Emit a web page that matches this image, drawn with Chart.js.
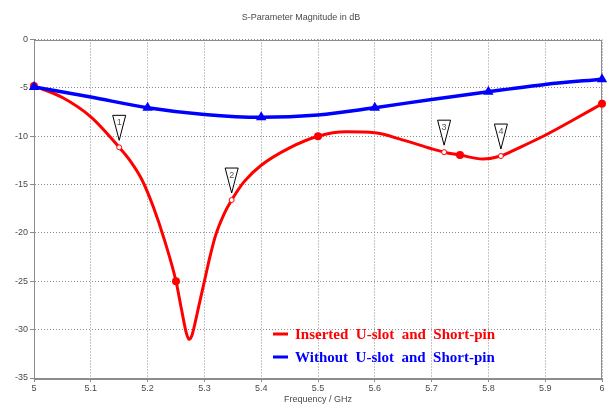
<!DOCTYPE html>
<html>
<head>
<meta charset="utf-8">
<script src="https://cdn.jsdelivr.net/npm/chart.js@4/dist/chart.umd.min.js"></script>
<style>
  html, body { margin: 0; padding: 0; background: #ffffff; }
  #wrap { width: 610px; height: 409px; }
</style>
</head>
<body>
<div id="wrap"><canvas id="chart" width="610" height="409"></canvas></div>
<script>
// Axis ticks
const freqTicks = [5.0, 5.1, 5.2, 5.3, 5.4, 5.5, 5.6, 5.7, 5.8, 5.9, 6.0];
const dbTicks = [0, -5, -10, -15, -20, -25, -30, -35];

// S11 with the U-slot and shorting pin (GHz, dB)
const insertedFreq = [5.00, 5.05, 5.10, 5.15, 5.17, 5.19, 5.21, 5.23, 5.25, 5.26, 5.268, 5.273,
                      5.278, 5.284, 5.29, 5.30, 5.31, 5.32, 5.335, 5.348, 5.37, 5.40, 5.45, 5.50,
                      5.55, 5.60, 5.65, 5.70, 5.722, 5.75, 5.79, 5.822, 5.85, 5.90, 5.95, 6.00];
const insertedDb   = [-4.8, -6.0, -8.0, -11.15, -12.6, -14.5, -17.3, -20.8, -25.0, -28.0, -30.3, -31.0,
                      -30.6, -29.2, -27.6, -25.0, -22.4, -20.2, -18.0, -16.6, -14.7, -13.0, -11.2, -10.0,
                      -9.55, -9.65, -10.4, -11.3, -11.65, -11.95, -12.35, -12.05, -11.3, -9.9, -8.3, -6.65];

// S11 of the plain patch (GHz, dB)
const withoutFreq = [5.0, 5.1, 5.2, 5.3, 5.4, 5.5, 5.6, 5.7, 5.8, 5.9, 6.0];
const withoutDb   = [-4.9, -5.95, -7.05, -7.75, -8.05, -7.8, -7.05, -6.2, -5.4, -4.65, -4.1];

// Frequencies carrying plot symbols on each curve
const insertedSymbolFreq = [5.0, 5.25, 5.5, 5.75, 6.0];
const withoutSymbolFreq = [5.0, 5.2, 5.4, 5.6, 5.8, 6.0];

// Numbered curve markers on the red trace
const markerIds  = ['1', '2', '3', '4'];
const markerFreq = [5.15, 5.348, 5.722, 5.822];
const markerDb   = [-11.15, -16.6, -11.65, -12.05];

const seriesLabels = ['Inserted  U-slot  and  Short-pin', 'Without  U-slot  and  Short-pin'];
const seriesColors = ['#ff0000', '#0000ff'];

const toPoints = (xs, ys) => xs.map((x, i) => ({ x: x, y: ys[i] }));
const hasSymbol = (list) => (ctx) => {
  const raw = ctx.raw;
  return raw && list.some(f => Math.abs(f - raw.x) < 1e-6);
};

const TICK_FONT = { family: 'Liberation Sans, Arial, sans-serif', size: 9 };
const TEXT_GRAY = '#4a4a4a';

// Inverted triangle flags with the marker number, plus the frame around the plot
const decorations = {
  id: 'decorations',
  beforeDatasetsDraw(chart) {
    const { ctx, chartArea } = chart;
    ctx.save();
    ctx.strokeStyle = '#8c8c8c';
    ctx.lineWidth = 1;
    ctx.strokeRect(Math.round(chartArea.left) + 0.5, Math.round(chartArea.top) + 0.5,
                   Math.round(chartArea.right - chartArea.left) - 1, Math.round(chartArea.bottom - chartArea.top));
    ctx.restore();
  },
  afterDatasetsDraw(chart) {
    const { ctx, scales } = chart;
    ctx.save();
    markerIds.forEach((id, i) => {
      const px = scales.x.getPixelForValue(markerFreq[i]);
      const py = scales.y.getPixelForValue(markerDb[i]);
      ctx.beginPath();
      ctx.moveTo(px - 6.5, py - 32);
      ctx.lineTo(px + 6.5, py - 32);
      ctx.lineTo(px, py - 7);
      ctx.closePath();
      ctx.fillStyle = '#ffffff';
      ctx.fill();
      ctx.strokeStyle = '#000000';
      ctx.lineWidth = 1;
      ctx.stroke();
      ctx.fillStyle = '#555555';
      ctx.font = '9px Liberation Sans, Arial, sans-serif';
      ctx.textAlign = 'center';
      ctx.textBaseline = 'middle';
      ctx.fillText(id, px, py - 25);
    });
    ctx.restore();
  },
  afterDraw(chart) {
    const { ctx, chartArea } = chart;
    ctx.save();
    const lineX0 = chartArea.right - 329;
    const rows = [chartArea.bottom - 44, chartArea.bottom - 21];
    seriesLabels.forEach((label, i) => {
      const y = rows[i];
      ctx.strokeStyle = seriesColors[i];
      ctx.lineWidth = 3;
      ctx.beginPath();
      ctx.moveTo(lineX0, y);
      ctx.lineTo(lineX0 + 15, y);
      ctx.stroke();
      ctx.fillStyle = seriesColors[i];
      ctx.font = 'bold 15px Liberation Serif, Times New Roman, serif';
      ctx.textAlign = 'left';
      ctx.textBaseline = 'middle';
      ctx.fillText(label, lineX0 + 22, y + 1);
    });
    ctx.restore();
  }
};

new Chart(document.getElementById('chart'), {
  type: 'line',
  data: {
    datasets: [
      {
        label: 'markers',
        data: toPoints(markerFreq, markerDb),
        showLine: false,
        pointStyle: 'circle',
        pointRadius: 2.5,
        pointBackgroundColor: '#ffffff',
        pointBorderColor: '#ff0000',
        pointBorderWidth: 1,
        order: 0
      },
      {
        label: seriesLabels[0],
        data: toPoints(insertedFreq, insertedDb),
        borderColor: seriesColors[0],
        backgroundColor: seriesColors[0],
        borderWidth: 3,
        cubicInterpolationMode: 'monotone',
        pointStyle: 'circle',
        pointRadius: (ctx) => hasSymbol(insertedSymbolFreq)(ctx) ? 4 : 0,
        pointBorderWidth: 0,
        pointBackgroundColor: seriesColors[0],
        clip: 8,
        order: 2
      },
      {
        label: seriesLabels[1],
        data: toPoints(withoutFreq, withoutDb),
        borderColor: seriesColors[1],
        backgroundColor: seriesColors[1],
        borderWidth: 3.5,
        cubicInterpolationMode: 'monotone',
        pointStyle: 'triangle',
        pointRadius: (ctx) => hasSymbol(withoutSymbolFreq)(ctx) ? 6 : 0,
        pointBorderWidth: 0,
        pointBackgroundColor: seriesColors[1],
        clip: 8,
        order: 1
      }
    ]
  },
  options: {
    responsive: false,
    animation: false,
    devicePixelRatio: 1,
    layout: { padding: { left: 0, right: 8, top: 0, bottom: 0 } },
    plugins: {
      legend: { display: false },
      tooltip: { enabled: false },
      title: {
        display: true,
        text: 'S-Parameter Magnitude in dB',
        color: TEXT_GRAY,
        font: { family: 'Liberation Sans, Arial, sans-serif', size: 9, weight: 'normal', lineHeight: 1.2 },
        padding: { top: 12, bottom: 16.7 }
      }
    },
    scales: {
      x: {
        type: 'linear',
        min: 5,
        max: 6,
        afterBuildTicks: (scale) => { scale.ticks = freqTicks.map(v => ({ value: v })); },
        afterFit: (scale) => { scale.height = 31; },
        ticks: {
          color: TEXT_GRAY,
          font: TICK_FONT,
          padding: 1,
          maxRotation: 0,
          autoSkip: false,
          callback: (v) => String(Number(v.toFixed(1)))
        },
        grid: { color: '#8a8a8a', lineWidth: 1, tickLength: 4, drawOnChartArea: true },
        border: { display: true, color: '#8c8c8c', dash: [1, 2] },
        title: {
          display: true,
          text: 'Frequency / GHz',
          color: TEXT_GRAY,
          font: { family: 'Liberation Sans, Arial, sans-serif', size: 9, lineHeight: 1.2 },
          padding: { top: 0, bottom: 4 }
        }
      },
      y: {
        type: 'linear',
        min: -35,
        max: 0,
        afterBuildTicks: (scale) => { scale.ticks = dbTicks.map(v => ({ value: v })); },
        afterFit: (scale) => { scale.width = 34; },
        ticks: {
          color: TEXT_GRAY,
          font: TICK_FONT,
          padding: 2,
          autoSkip: false,
          callback: (v) => String(v)
        },
        grid: { color: '#8a8a8a', lineWidth: 1, tickLength: 4 },
        border: { display: true, color: '#8c8c8c', dash: [1, 2] }
      }
    }
  },
  plugins: [decorations]
});
</script>
</body>
</html>
